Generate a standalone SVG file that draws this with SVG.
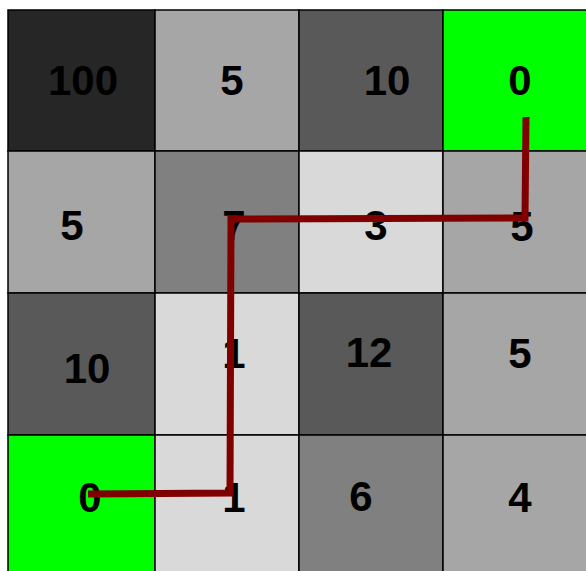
<svg xmlns="http://www.w3.org/2000/svg" width="586" height="571" viewBox="0 0 586 571">
<style>
.c{stroke:#000;stroke-width:1.5}
.t{font-family:"Liberation Sans",Arial,sans-serif;font-weight:bold;font-size:42px;fill:#000;text-anchor:middle}
.g0{fill:#262626}.g1{fill:#595959}.g2{fill:#808080}.g3{fill:#a6a6a6}.g4{fill:#d9d9d9}.gr{fill:#00ff00}
</style>
<rect width="586" height="571" fill="#fff"/>
<g id="r0c0"><rect class="c g0" x="8" y="10" width="147" height="141"/><text class="t" x="83" y="95">100</text></g>
<g id="r0c1"><rect class="c g3" x="155" y="10" width="144" height="141"/><text class="t" x="232" y="95">5</text></g>
<g id="r0c2"><rect class="c g1" x="299" y="10" width="144" height="141"/><text class="t" x="387" y="95">10</text></g>
<g id="r0c3"><rect class="c gr" x="443" y="10" width="145" height="141"/><text class="t" x="520" y="95">0</text></g>
<g id="r1c0"><rect class="c g3" x="8" y="151" width="147" height="142"/><text class="t" x="72" y="240">5</text></g>
<g id="r1c1"><rect class="c g2" x="155" y="151" width="144" height="142"/><text class="t" x="234" y="240">7</text></g>
<g id="r1c2"><rect class="c g4" x="299" y="151" width="144" height="142"/><text class="t" x="376" y="240">3</text></g>
<g id="r1c3"><rect class="c g3" x="443" y="151" width="145" height="142"/><text class="t" x="522" y="241">5</text></g>
<g id="r2c0"><rect class="c g1" x="8" y="293" width="147" height="142"/><text class="t" x="87" y="383">10</text></g>
<g id="r2c1"><rect class="c g4" x="155" y="293" width="144" height="142"/><text class="t" x="234" y="368">1</text></g>
<g id="r2c2"><rect class="c g1" x="299" y="293" width="144" height="142"/><text class="t" x="369" y="367">12</text></g>
<g id="r2c3"><rect class="c g3" x="443" y="293" width="145" height="142"/><text class="t" x="520" y="368">5</text></g>
<g id="r3c0"><rect class="c gr" x="8" y="435" width="147" height="140"/><text class="t" x="90" y="512">0</text></g>
<g id="r3c1"><rect class="c g4" x="155" y="435" width="144" height="140"/><text class="t" x="234" y="512">1</text></g>
<g id="r3c2"><rect class="c g2" x="299" y="435" width="144" height="140"/><text class="t" x="361" y="511">6</text></g>
<g id="r3c3"><rect class="c g3" x="443" y="435" width="145" height="140"/><text class="t" x="520" y="512">4</text></g>
<g id="connectors"><polyline points="526,117 525,218 231,219 230,493 88,494" fill="none" stroke="#800000" stroke-width="7" stroke-linejoin="miter"/></g>
</svg>
